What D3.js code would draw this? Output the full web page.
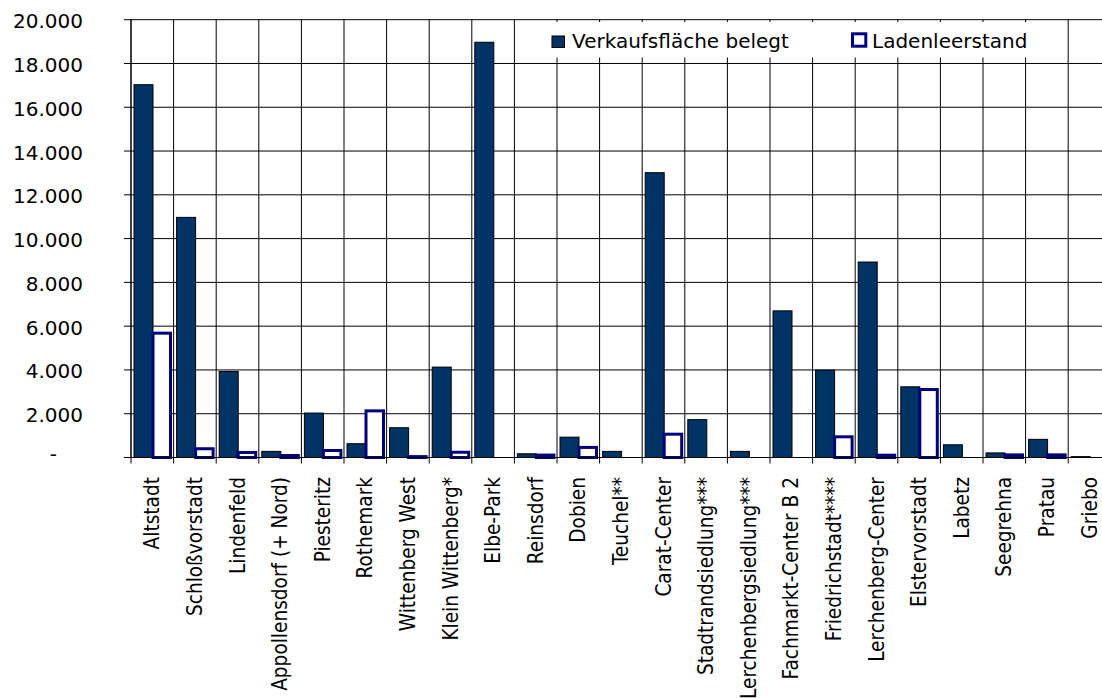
<!DOCTYPE html>
<html>
<head>
<meta charset="utf-8">
<script src="https://cdn.jsdelivr.net/npm/d3@7"></script>
<style>
  html, body { margin: 0; padding: 0; background: #fff; }
  svg { display: block; }
</style>
</head>
<body>
<svg id="chart" width="1102" height="698"></svg>
<script>
// Verkaufsfläche (m²) je Standort, belegt vs. Leerstand
const categories = [
  "Altstadt", "Schloßvorstadt", "Lindenfeld", "Appollensdorf (+ Nord)", "Piesteritz",
  "Rothemark", "Wittenberg West", "Klein Wittenberg*", "Elbe-Park", "Reinsdorf",
  "Dobien", "Teuchel**", "Carat-Center", "Stadtrandsiedlung***", "Lerchenbergsiedlung***",
  "Fachmarkt-Center B 2", "Friedrichstadt****", "Lerchenberg-Center", "Elstervorstadt",
  "Labetz", "Seegrehna", "Pratau", "Griebo"
];
const belegt = [17030, 10970, 3930, 280, 2030, 630, 1360, 4130, 18970, 170,
                930, 280, 13010, 1730, 280, 6700, 3990, 8930, 3230, 580, 210, 830, 40];
const leerstand = [5680, 400, 230, 90, 320, 2130, 40, 240, 0, 110,
                   460, 0, 1065, 0, 0, 0, 945, 105, 3105, 0, 120, 120, 0];
const seriesNames = ["Verkaufsfläche belegt", "Ladenleerstand"];
const yTickValues = [0, 2000, 4000, 6000, 8000, 10000, 12000, 14000, 16000, 18000, 20000];
const yTickLabels = ["-", "2.000", "4.000", "6.000", "8.000", "10.000", "12.000",
                     "14.000", "16.000", "18.000", "20.000"];

const DARK = "#003366";
const NAVY = "#000080";
const FONT = "'DejaVu Sans', Verdana, sans-serif";
const FONT_COND = "'DejaVu Sans Condensed', 'DejaVu Sans', sans-serif";

const svg = d3.select("#chart");
const plotLeft = 131, plotTop = 19.7, plotBottom = 457.5;
const step = 42.6;
const plotRight = plotLeft + step * categories.length;

const x0 = d3.scaleBand().domain(categories).range([plotLeft, plotRight]).padding(0);
const x1 = d3.scaleBand().domain(seriesNames).range([3, 41]).padding(0);
const y = d3.scaleLinear().domain([0, 20000]).range([plotBottom, plotTop]);

// horizontal gridlines
svg.append("g").selectAll("line").data(yTickValues).join("line")
  .attr("x1", plotLeft).attr("x2", plotRight)
  .attr("y1", d => y(d)).attr("y2", d => y(d))
  .attr("stroke", "#000").attr("stroke-width", 1);

// vertical gridlines at category boundaries
const bounds = categories.map(c => x0(c)).concat([plotRight]);
svg.append("g").selectAll("line").data(bounds).join("line")
  .attr("x1", d => d).attr("x2", d => d)
  .attr("y1", plotTop).attr("y2", plotBottom)
  .attr("stroke", "#000").attr("stroke-width", 1);

// bars: belegt (filled)
const rows = categories.map((c, i) => ({ c, b: belegt[i], l: leerstand[i] }));
svg.append("g").selectAll("rect").data(rows).join("rect")
  .attr("x", d => x0(d.c) + x1(seriesNames[0]))
  .attr("width", x1.bandwidth())
  .attr("y", d => y(d.b))
  .attr("height", d => y(0) - y(d.b))
  .attr("fill", DARK).attr("stroke", "#000").attr("stroke-width", 1);

// bars: Ladenleerstand (hollow)
svg.append("g").selectAll("rect").data(rows.filter(d => d.l > 0)).join("rect")
  .attr("x", d => x0(d.c) + x1(seriesNames[1]))
  .attr("width", x1.bandwidth() - 1.5)
  .attr("y", d => y(d.l))
  .attr("height", d => y(0) - y(d.l))
  .attr("fill", "#fff").attr("stroke", NAVY).attr("stroke-width", 3);

// y axis
const yAxis = svg.append("g");
yAxis.append("line").attr("x1", plotLeft).attr("x2", plotLeft).attr("y1", plotTop).attr("y2", plotBottom)
  .attr("stroke", "#000");
yAxis.selectAll("line.tick").data(yTickValues).join("line").attr("class", "tick")
  .attr("x1", plotLeft - 7).attr("x2", plotLeft).attr("y1", d => y(d)).attr("y2", d => y(d))
  .attr("stroke", "#000");
yAxis.selectAll("text").data(yTickValues).join("text")
  .attr("x", d => d === 0 ? 57 : 83)
  .attr("y", d => y(d) + (d === 0 ? 3 : 8.5))
  .attr("text-anchor", "end")
  .attr("font-family", FONT).attr("font-size", 20).attr("fill", "#000")
  .text((d, i) => yTickLabels[i]);

// x axis
const xAxis = svg.append("g");
xAxis.append("line").attr("x1", plotLeft).attr("x2", plotRight).attr("y1", plotBottom).attr("y2", plotBottom)
  .attr("stroke", "#000");
xAxis.selectAll("line.tick").data(bounds).join("line").attr("class", "tick")
  .attr("x1", d => d).attr("x2", d => d).attr("y1", plotBottom).attr("y2", plotBottom + 6)
  .attr("stroke", "#000");
xAxis.selectAll("text").data(categories).join("text")
  .attr("transform", d => `translate(${x0(d) + x0.bandwidth() / 2 + 7},477) rotate(-90)`)
  .attr("text-anchor", "end")
  .attr("font-family", FONT_COND).attr("font-size", 20.6).attr("fill", "#000")
  .text(d => d);

// legend
const legend = svg.append("g");
legend.append("rect").attr("x", 532).attr("y", 22).attr("width", 503).attr("height", 35.5)
  .attr("fill", "#fff");
legend.append("rect").attr("x", 552).attr("y", 36).attr("width", 12.5).attr("height", 11.5)
  .attr("fill", DARK).attr("stroke", "#000").attr("stroke-width", 1);
legend.append("text").attr("x", 572).attr("y", 48.3)
  .attr("font-family", FONT).attr("font-size", 20).attr("fill", "#000")
  .text(seriesNames[0]);
legend.append("rect").attr("x", 852.5).attr("y", 33.8).attr("width", 13.3).attr("height", 12.4)
  .attr("fill", "#fff").attr("stroke", NAVY).attr("stroke-width", 3);
legend.append("text").attr("x", 872).attr("y", 48.3)
  .attr("font-family", FONT).attr("font-size", 20).attr("fill", "#000")
  .text(seriesNames[1]);
</script>
</body>
</html>
